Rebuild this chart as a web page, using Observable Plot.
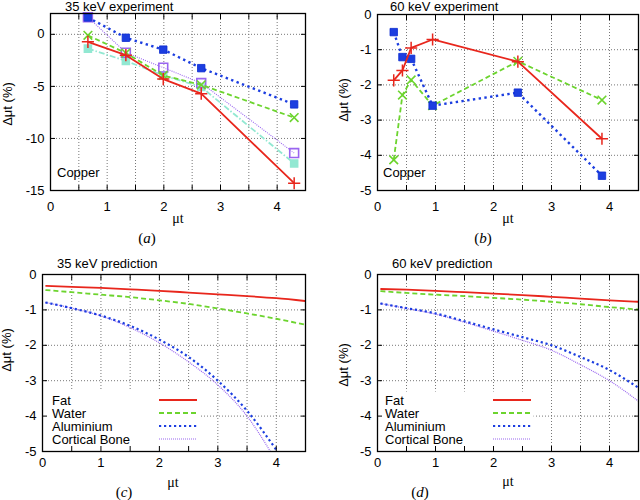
<!DOCTYPE html>
<html><head><meta charset="utf-8">
<script src="https://cdn.jsdelivr.net/npm/d3@7"></script>
<script src="https://cdn.jsdelivr.net/npm/@observablehq/plot@0.6"></script>
<style>
body{margin:0;background:#fff;}
#wrap{position:relative;width:640px;height:500px;overflow:hidden;background:#fff;}
.panel{position:absolute;width:320px;height:250px;}
</style></head><body><div id="wrap"></div>
<script>
// ---------- DATA ----------
// (a) 35 keV experiment (Copper)
const xA = [0.66, 1.33, 1.99, 2.66, 4.30];
const aRed    = [-0.72, -2.0, -4.3, -5.7, -14.3];
const aGreen  = [-0.1, -1.8, -3.95, -4.85, -8.0];
const aBlue   = [1.62, -0.33, -1.47, -3.25, -6.73];
const aPurple = [1.65, -1.76, -3.2, -4.68, -11.4];
const aCyan   = [-1.37, -2.55, -3.94, -5.06, -12.4];

// (b) 60 keV experiment (Copper)
const xB = [0.28, 0.43, 0.58, 0.95, 2.42, 3.87];
const bRed   = [-1.87, -1.59, -0.95, -0.71, -1.34, -3.53];
const bGreen = [-4.13, -2.29, -1.86, -2.59, -1.33, -2.43];
const bBlue  = [-0.50, -1.21, -1.26, -2.59, -2.22, -4.58];

// (c) 35 keV prediction
const xC = [0.05, 0.5, 1, 1.5, 2, 2.5, 3, 3.5, 4, 4.5];
const cFat   = [-0.32, -0.35, -0.38, -0.42, -0.46, -0.51, -0.56, -0.61, -0.67, -0.75];
const cWater = [-0.44, -0.50, -0.57, -0.64, -0.73, -0.83, -0.96, -1.10, -1.25, -1.42];
const xCAl = [0.05, 0.5, 1, 1.5, 2, 2.5, 3, 3.5, 4.02];
const cAl  = [-0.79, -0.95, -1.16, -1.45, -1.84, -2.33, -3.0, -3.85, -5.0];
const xCBone = [0.05, 0.5, 1, 1.5, 2, 2.5, 3, 3.5, 3.9];
const cBone  = [-0.79, -0.95, -1.17, -1.5, -1.93, -2.47, -3.12, -4.0, -5.0];

// (d) 60 keV prediction
const xD = [0.05, 0.5, 1, 1.5, 2, 2.5, 3, 3.5, 4, 4.5];
const dFat   = [-0.41, -0.43, -0.46, -0.50, -0.54, -0.58, -0.63, -0.68, -0.73, -0.77];
const dWater = [-0.47, -0.52, -0.57, -0.61, -0.66, -0.71, -0.77, -0.84, -0.92, -0.99];
const dAl    = [-0.82, -0.95, -1.10, -1.32, -1.55, -1.77, -2.0, -2.33, -2.7, -3.2];
const dBone  = [-0.82, -0.96, -1.12, -1.35, -1.6, -1.86, -2.14, -2.55, -3.0, -3.58];

// ticks & labels
const xTickLabels = [0, 1, 2, 3, 4];
const xTickMarks = [0.5, 1, 1.5, 2, 2.5, 3, 3.5, 4];
const yTicksA = [0, -5, -10, -15];
const yGridA = [0, -5, -10];
const yTicks5 = [0, -1, -2, -3, -4, -5];
const yGrid5 = [-1, -2, -3, -4];
const legendNames = ["Fat", "Water", "Aluminium", "Cortical Bone"];
const titles = ["35 keV experiment", "60 keV experiment", "35 keV prediction", "60 keV prediction"];
const captions = ["a", "b", "c", "d"];

// ---------- STYLE ----------
const FONT = "'Liberation Sans', Arial, Helvetica, sans-serif";
const SERIF = "'Liberation Serif', 'Times New Roman', serif";
const RED = "#e8261c", GREEN = "#6cd42e", BLUE = "#1c3ee0", PURPLE = "#9a66f0", CYAN = "#92e8d2";
const S = {
  red:    {stroke: RED, strokeWidth: 1.8, strokeLinecap: "butt"},
  green:  {stroke: GREEN, strokeWidth: 1.8, strokeDasharray: "5,3", strokeLinecap: "butt"},
  blue:   {stroke: BLUE, strokeWidth: 2.4, strokeDasharray: "2.4,3.4", strokeLinecap: "butt"},
  purple: {stroke: PURPLE, strokeWidth: 1.1, strokeDasharray: "1,1.2", strokeLinecap: "butt"},
  cyan:   {stroke: CYAN, strokeWidth: 1.8, strokeDasharray: "6,2,1.5,2", strokeLinecap: "butt"}
};
const blueC = {...S.blue, strokeWidth: 2.2, strokeDasharray: "2.2,2.8"};
const purpleC = {...S.purple, strokeWidth: 1.2, strokeDasharray: "1,1"};

const zip = (xs, ys) => xs.map((x, i) => ({x, y: ys[i]}));

function axes(yTicks, padX) {
  const fmt = d => String(d);
  const blank = () => "";
  return [
    Plot.axisX(xTickLabels, {anchor: "bottom", tickSize: 0, tickPadding: padX, tickFormat: fmt, label: null}),
    Plot.axisY(yTicks, {anchor: "left", tickSize: 0, tickPadding: 6, tickFormat: fmt, label: null}),
    Plot.axisX(xTickMarks, {anchor: "bottom", tickSize: 5, dy: -5, tickFormat: blank, label: null, strokeWidth: 1}),
    Plot.axisX(xTickMarks, {anchor: "top", tickSize: 5, dy: 5, tickFormat: blank, label: null, strokeWidth: 1}),
    Plot.axisY(yTicks, {anchor: "left", tickSize: 5, dx: 5, tickFormat: blank, label: null, strokeWidth: 1}),
    Plot.axisY(yTicks, {anchor: "right", tickSize: 5, dx: -5, tickFormat: blank, label: null, strokeWidth: 1})
  ];
}
function grids(yGrid) {
  return [
    Plot.gridX(xTickMarks, {stroke: "#777", strokeOpacity: 1, strokeDasharray: "1,2", strokeWidth: 1}),
    Plot.gridY(yGrid, {stroke: "#777", strokeOpacity: 1, strokeDasharray: "1,2", strokeWidth: 1})
  ];
}
function series(data, style, dot) {
  const m = [Plot.line(data, {x: "x", y: "y", clip: true, ...style})];
  if (dot) m.push(Plot.dot(data, {x: "x", y: "y", ...dot}));
  return m;
}
const dotPlus = {symbol: "plus", r: 4, stroke: RED, strokeWidth: 1.5};
const dotTimes = {symbol: "times", r: 4, stroke: GREEN, strokeWidth: 1.6};
const dotBlue = {symbol: "square", r: 4.2, fill: BLUE, stroke: "#0b2bd0", strokeWidth: 0.8};
const dotPurple = {symbol: "square", r: 5, fill: "white", fillOpacity: 0.3, stroke: PURPLE, strokeWidth: 1.6};
const dotCyan = {symbol: "square", r: 4, fill: CYAN, stroke: CYAN};

function makePlot(opts, marks) {
  return Plot.plot({
    width: 320, height: 250,
    ...opts,
    x: {domain: [0, 4.5]},
    style: {fontFamily: FONT, fontSize: "13px", background: "white", color: "black", overflow: "visible"},
    marks
  });
}

function txt(s, x, y, str, font, size, anchor) {
  return s.append("text").attr("transform", `translate(${x},${y})`).attr("text-anchor", anchor || "start")
    .attr("font-family", font).attr("font-size", size).text(str);
}

function decorate(svg, d) {
  const s = d3.select(svg);
  txt(s, d.title[0], d.title[1], d.titleText, FONT, 13);
  s.append("text").attr("transform", `translate(${d.ylab[0]},${d.ylab[1]}) rotate(-90)`).attr("text-anchor", "middle")
    .attr("dominant-baseline", "middle").attr("font-family", FONT).attr("font-size", 13).text("Δμt (%)");
  txt(s, d.xlab[0], d.xlab[1], "μt", SERIF, 14, "middle");
  const c = s.append("text").attr("transform", `translate(${d.cap[0]},${d.cap[1]})`).attr("text-anchor", "middle").attr("font-family", SERIF).attr("font-size", 15);
  c.append("tspan").text("(");
  c.append("tspan").attr("font-style", "italic").text(d.capText);
  c.append("tspan").text(")");
  if (d.copper) txt(s, d.copper[0], d.copper[1], "Copper", FONT, 13);
  if (d.legend) {
    const styles = [S.red, S.green, blueC, purpleC];
    legendNames.forEach((name, i) => {
      const y = d.legend.y0 + i * d.legend.dy;
      txt(s, d.legend.tx, y, name, FONT, 13).attr("dy", "0.35em");
      const st = styles[i];
      s.append("line").attr("x1", d.legend.l1).attr("x2", d.legend.l2).attr("y1", y).attr("y2", y)
        .attr("stroke", st.stroke).attr("stroke-width", st.strokeWidth).attr("stroke-dasharray", st.strokeDasharray || null);
    });
  }
}

function place(svg, left, top) {
  const div = document.createElement("div");
  div.className = "panel";
  div.style.left = left + "px";
  div.style.top = top + "px";
  div.appendChild(svg);
  document.getElementById("wrap").appendChild(div);
}

// ---------- PANEL (a) ----------
const pa = makePlot({marginLeft: 50, marginRight: 15, marginTop: 13, marginBottom: 60, y: {domain: [-15, 2]}}, [
  ...grids(yGridA),
  ...series(zip(xA, aCyan), S.cyan, dotCyan),
  ...series(zip(xA, aPurple), S.purple, dotPurple),
  ...series(zip(xA, aGreen), S.green, dotTimes),
  ...series(zip(xA, aBlue), S.blue, dotBlue),
  ...series(zip(xA, aRed), S.red, dotPlus),
  Plot.frame({stroke: "black", strokeWidth: 1.3}),
  ...axes(yTicksA, 11)
]);
decorate(pa, {title: [65, 11], titleText: titles[0], ylab: [9, 104], xlab: [178, 223], cap: [147, 243], capText: captions[0], copper: [57, 177]});
place(pa, 0, 0);

// ---------- PANEL (b) ----------
const pb = makePlot({marginLeft: 57, marginRight: 2, marginTop: 14, marginBottom: 60, y: {domain: [-5, 0]}}, [
  ...grids(yGrid5),
  ...series(zip(xB, bGreen), S.green, dotTimes),
  ...series(zip(xB, bBlue), S.blue, dotBlue),
  ...series(zip(xB, bRed), S.red, dotPlus),
  Plot.frame({stroke: "black", strokeWidth: 1.3}),
  ...axes(yTicks5, 11)
]);
decorate(pb, {title: [70, 11], titleText: titles[1], ylab: [25, 100], xlab: [188, 223], cap: [163, 243], capText: captions[1], copper: [63, 177]});
place(pb, 320, 0);

// ---------- PANEL (c) ----------
const pc = makePlot({marginLeft: 42, marginRight: 15, marginTop: 24, marginBottom: 49, y: {domain: [-5, 0]}}, [
  ...grids(yGrid5),
  Plot.frame({fill: "white", stroke: "none", insetTop: 116, insetRight: 106, insetLeft: 1, insetBottom: 1}),
  ...series(zip(xCBone, cBone), {...purpleC, curve: "monotone-x"}),
  ...series(zip(xCAl, cAl), {...blueC, curve: "monotone-x"}),
  ...series(zip(xC, cWater), {...S.green, curve: "monotone-x"}),
  ...series(zip(xC, cFat), {...S.red, curve: "monotone-x"}),
  Plot.frame({stroke: "black", strokeWidth: 1.3}),
  ...axes(yTicks5, 6)
]);
decorate(pc, {title: [57, 18], titleText: titles[2], ylab: [8, 100], xlab: [173, 237], cap: [124, 247], capText: captions[2],
  legend: {tx: 52, y0: 150, dy: 13, l1: 159, l2: 197}});
place(pc, 0, 250);

// ---------- PANEL (d) ----------
const pd = makePlot({marginLeft: 57, marginRight: 2, marginTop: 24, marginBottom: 49, y: {domain: [-5, 0]}}, [
  ...grids(yGrid5),
  Plot.frame({fill: "white", stroke: "none", insetTop: 117, insetRight: 105, insetLeft: 1, insetBottom: 1}),
  ...series(zip(xD, dBone), {...purpleC, curve: "monotone-x"}),
  ...series(zip(xD, dAl), {...blueC, curve: "monotone-x"}),
  ...series(zip(xD, dWater), {...S.green, curve: "monotone-x"}),
  ...series(zip(xD, dFat), {...S.red, curve: "monotone-x"}),
  Plot.frame({stroke: "black", strokeWidth: 1.3}),
  ...axes(yTicks5, 6)
]);
decorate(pd, {title: [72, 18], titleText: titles[3], ylab: [25, 115], xlab: [188, 236], cap: [100, 247], capText: captions[3],
  legend: {tx: 65, y0: 150, dy: 13, l1: 173, l2: 211}});
place(pd, 320, 250);
</script></body></html>
